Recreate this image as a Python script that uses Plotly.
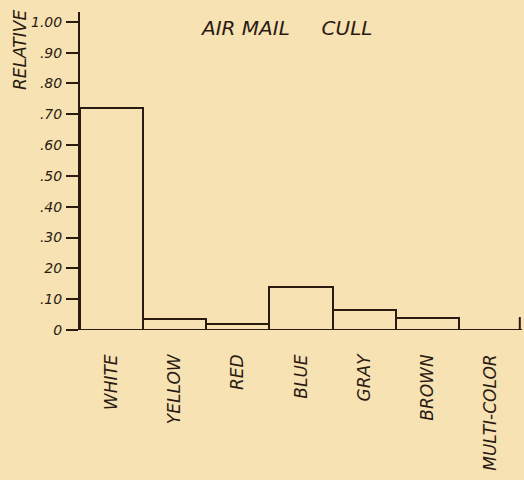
import plotly.graph_objects as go

# Relative share of each envelope colour in the air-mail cull
colors = ["WHITE", "YELLOW", "RED", "BLUE", "GRAY", "BROWN", "MULTI-COLOR"]
relative = [0.72, 0.035, 0.02, 0.14, 0.065, 0.04, 0.0]

tick_values = [0, 0.1, 0.2, 0.3, 0.4, 0.5, 0.6, 0.7, 0.8, 0.9, 1.0]
tick_labels = ["0", ".10", "20", ".30", ".40", ".50", ".60", ".70", ".80", ".90", "1.00"]

paper = "#F6E2B2"
ink = "#2B1A12"
hand = "DejaVu Sans"

fig = go.Figure(
    go.Bar(
        x=colors,
        y=relative,
        marker=dict(color=paper, line=dict(color=ink, width=2)),
        width=1.0,
    )
)

fig.update_layout(
    width=524,
    height=480,
    margin=dict(l=80, r=2, t=12, b=150),
    paper_bgcolor=paper,
    plot_bgcolor=paper,
    showlegend=False,
    bargap=0,
    xaxis=dict(
        range=[-0.5, 6.5],
        showgrid=False,
        zeroline=False,
        showline=False,
        ticks="",
        tickangle=-90,
        ticklabelstandoff=20,
        tickfont=dict(family=hand, size=17, color=ink, style="italic"),
    ),
    yaxis=dict(
        range=[0, 1.032],
        showgrid=False,
        zeroline=False,
        showline=True,
        linecolor=ink,
        linewidth=2,
        ticks="outside",
        ticklen=12,
        tickwidth=2,
        tickcolor=ink,
        tickvals=tick_values,
        ticktext=tick_labels,
        ticklabelstandoff=1,
        tickfont=dict(family=hand, size=14, color=ink, style="italic"),
    ),
    shapes=[
        # baseline across the full width
        dict(type="line", xref="paper", yref="y", x0=0, x1=1, y0=0, y1=0,
             line=dict(color=ink, width=2)),
        # short upright stroke closing the baseline on the right
        dict(type="line", xref="paper", yref="y", x0=0.995, x1=0.995, y0=0, y1=0.042,
             line=dict(color=ink, width=2)),
    ],
    annotations=[
        dict(text="AIR MAIL&nbsp;&nbsp;&nbsp;&nbsp;&nbsp;CULL", xref="paper", yref="paper",
             x=0.468, y=0.95, xanchor="center", yanchor="middle", showarrow=False,
             font=dict(family=hand, size=20, color=ink, style="italic")),
        dict(text="RELATIVE", xref="paper", yref="paper", x=-0.136, y=0.88,
             xanchor="center", yanchor="middle", textangle=-90, showarrow=False,
             font=dict(family=hand, size=17, color=ink, style="italic")),
    ],
)

fig.write_html("out.html")
